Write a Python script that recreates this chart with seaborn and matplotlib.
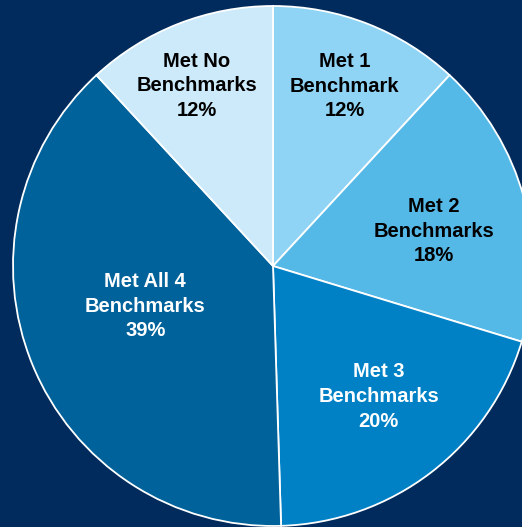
import numpy as np
import matplotlib
matplotlib.use('Agg')
import matplotlib.pyplot as plt
import seaborn as sns

categories = ['Met 1\nBenchmark', 'Met 2\nBenchmarks', 'Met 3\nBenchmarks',
              'Met All 4\nBenchmarks', 'Met No\nBenchmarks']
shares = [12, 18, 20, 39, 12]
colors = ['#8fd4f5', '#55b9e8', '#0081c6', '#00629b', '#cdeafa']
text_colors = ['black', 'black', 'white', 'white', 'black']
# label anchor (radius, angle in degrees) inside each wedge
label_pos = [(0.745, 68.3), (0.632, 12.2), (0.645, -51.0), (0.515, 197.5), (0.753, 113.0)]

sns.set_style('white')
plt.rcParams['font.family'] = ['Liberation Sans', 'DejaVu Sans']

bg = '#002b5c'
fig = plt.figure(figsize=(5.22, 5.27), dpi=100, facecolor=bg)
ax = fig.add_axes([0, 0, 1, 1])
ax.set_facecolor(bg)

wedges, _ = ax.pie(shares, colors=colors, startangle=90, counterclock=False,
                   radius=1.0,
                   wedgeprops=dict(edgecolor='white', linewidth=1.3))

for cat, val, tc, (r, ang) in zip(categories, shares, text_colors, label_pos):
    a = np.deg2rad(ang)
    ax.text(r * np.cos(a), r * np.sin(a), f'{cat}\n{val}%',
            ha='center', va='center', color=tc, fontsize=14.5,
            fontweight='bold', linespacing=1.38)

# center at (273, 266) px, radius 260 px
ax.set_xlim(-273 / 260, (522 - 273) / 260)
ax.set_ylim((266 - 527) / 260, 266 / 260)
ax.set_aspect('auto')
ax.axis('off')

fig.savefig('out.png', dpi=100, facecolor=bg)
